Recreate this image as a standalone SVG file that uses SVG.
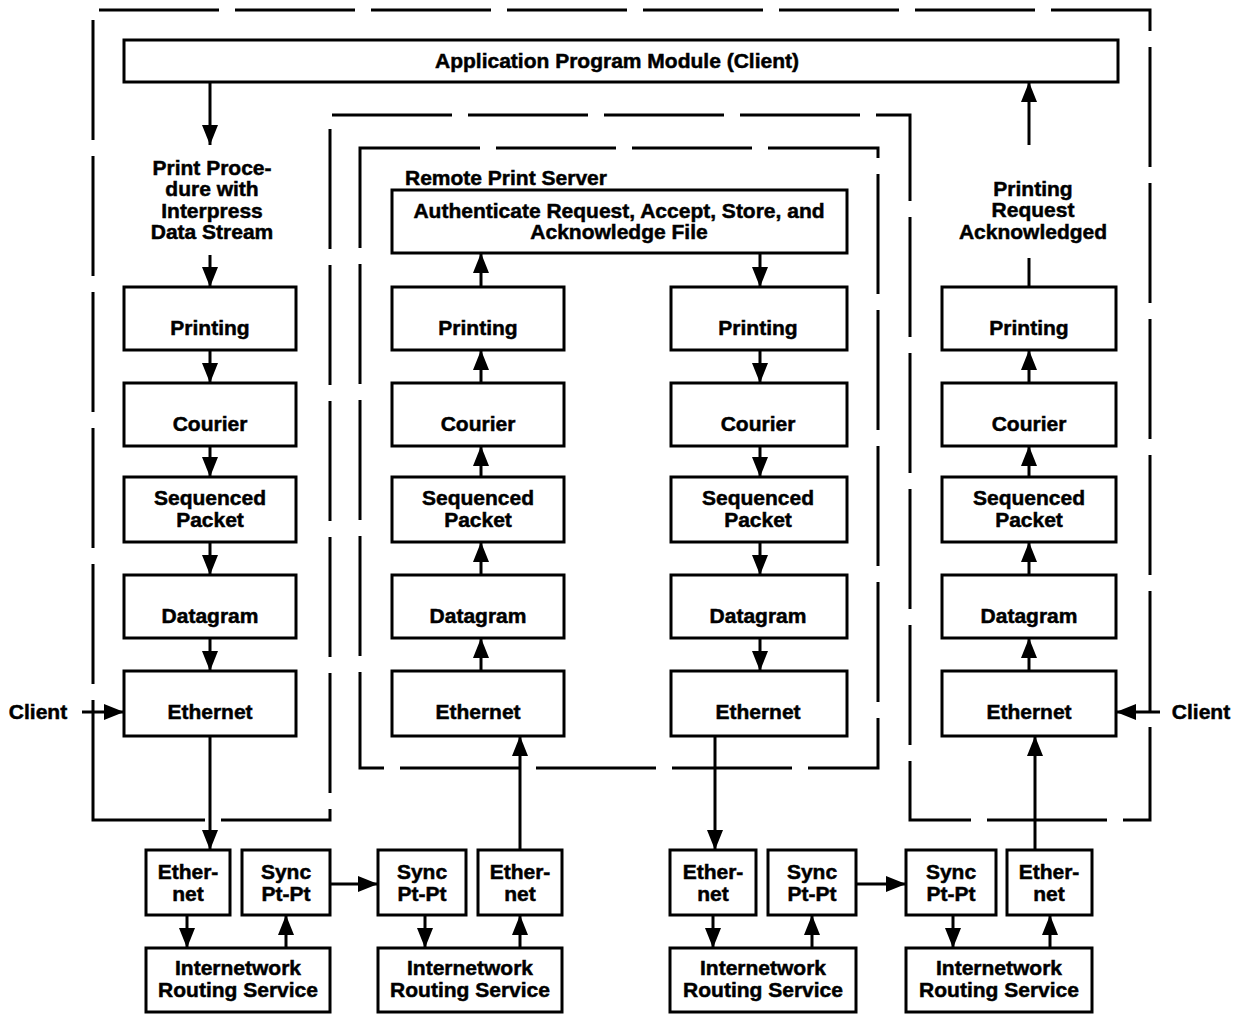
<svg xmlns="http://www.w3.org/2000/svg" width="1245" height="1015" viewBox="0 0 1245 1015">
<style>
  .box{fill:#fff;stroke:#000;stroke-width:3}
  .dash{fill:none;stroke:#000;stroke-width:3;stroke-dasharray:120 16}
  .t{font-family:"Liberation Sans",Arial,sans-serif;font-weight:bold;font-size:21px;fill:#000;stroke:#000;stroke-width:0.5;text-anchor:middle}
  .tl{text-anchor:start}
  .c{stroke:#000;stroke-width:3;fill:none}
  .a{marker-end:url(#arr)}
</style>
<defs>
  <marker id="arr" viewBox="0 0 20 16" refX="20" refY="8" markerWidth="20" markerHeight="16" markerUnits="userSpaceOnUse" orient="auto">
    <path d="M0,0 L20,8 L0,16 z" fill="#000"/>
  </marker>
</defs>
<rect width="1245" height="1015" fill="#fff"/>

<g id="frames">
  <path class="dash" d="M93,820 L93,10 L1150,10 L1150,820 L910,820 L910,115 L330,115 L330,820 Z"/>
  <rect id="remote-print-server-frame" class="dash" x="360" y="148" width="518" height="620"/>
</g>

<g id="connectors">
  <line class="c a" x1="210" y1="82" x2="210" y2="145"/>
  <line class="c a" x1="210" y1="255" x2="210" y2="287"/>
  <line class="c a" x1="210" y1="350" x2="210" y2="383"/>
  <line class="c a" x1="210" y1="446" x2="210" y2="477"/>
  <line class="c a" x1="210" y1="542" x2="210" y2="575"/>
  <line class="c a" x1="210" y1="638" x2="210" y2="671"/>
  <line class="c a" x1="210" y1="736" x2="210" y2="850"/>
  <line class="c a" x1="82" y1="712" x2="124" y2="712"/>
  <line class="c a" x1="187" y1="915" x2="187" y2="948"/>
  <line class="c a" x1="286" y1="948" x2="286" y2="915"/>
  <line class="c a" x1="330" y1="884" x2="378" y2="884"/>
  <line class="c a" x1="425" y1="915" x2="425" y2="948"/>
  <line class="c a" x1="520" y1="948" x2="520" y2="915"/>
  <line class="c a" x1="520" y1="850" x2="520" y2="736"/>
  <line class="c a" x1="481" y1="671" x2="481" y2="638"/>
  <line class="c a" x1="481" y1="575" x2="481" y2="542"/>
  <line class="c a" x1="481" y1="477" x2="481" y2="446"/>
  <line class="c a" x1="481" y1="383" x2="481" y2="350"/>
  <line class="c a" x1="481" y1="287" x2="481" y2="253"/>
  <line class="c a" x1="760" y1="253" x2="760" y2="287"/>
  <line class="c a" x1="760" y1="350" x2="760" y2="383"/>
  <line class="c a" x1="760" y1="446" x2="760" y2="477"/>
  <line class="c a" x1="760" y1="542" x2="760" y2="575"/>
  <line class="c a" x1="760" y1="638" x2="760" y2="671"/>
  <line class="c a" x1="715" y1="736" x2="715" y2="850"/>
  <line class="c a" x1="713" y1="915" x2="713" y2="948"/>
  <line class="c a" x1="812" y1="948" x2="812" y2="915"/>
  <line class="c a" x1="856" y1="884" x2="906" y2="884"/>
  <line class="c a" x1="953" y1="915" x2="953" y2="948"/>
  <line class="c a" x1="1050" y1="948" x2="1050" y2="915"/>
  <line class="c a" x1="1035" y1="850" x2="1035" y2="736"/>
  <line class="c a" x1="1029" y1="671" x2="1029" y2="638"/>
  <line class="c a" x1="1029" y1="575" x2="1029" y2="542"/>
  <line class="c a" x1="1029" y1="477" x2="1029" y2="446"/>
  <line class="c a" x1="1029" y1="383" x2="1029" y2="350"/>
  <line class="c" x1="1029" y1="287" x2="1029" y2="258"/>
  <line class="c a" x1="1029" y1="145" x2="1029" y2="82"/>
  <line class="c a" x1="1160" y1="712" x2="1116" y2="712"/>
</g>

<g id="app-module"><rect class="box" x="124" y="40" width="994" height="42"/><text class="t" x="617" y="68">Application Program Module (Client)</text></g>

<g id="print-procedure-label"><text class="t" x="212" y="175">Print Proce-</text><text class="t" x="212" y="196">dure with</text><text class="t" x="212" y="218">Interpress</text><text class="t" x="212" y="239">Data Stream</text></g>
<g id="ack-label"><text class="t" x="1033" y="196">Printing</text><text class="t" x="1033" y="217">Request</text><text class="t" x="1033" y="239">Acknowledged</text></g>

<g id="client-left-label"><text class="t" x="38" y="719">Client</text></g>
<g id="client-right-label"><text class="t" x="1201" y="719">Client</text></g>

<g id="l-printing"><rect class="box" x="124" y="287" width="172" height="63"/><text class="t" x="210" y="335">Printing</text></g>
<g id="l-courier"><rect class="box" x="124" y="383" width="172" height="63"/><text class="t" x="210" y="431">Courier</text></g>
<g id="l-seq"><rect class="box" x="124" y="477" width="172" height="65"/><text class="t" x="210" y="505">Sequenced</text><text class="t" x="210" y="527">Packet</text></g>
<g id="l-datagram"><rect class="box" x="124" y="575" width="172" height="63"/><text class="t" x="210" y="623">Datagram</text></g>
<g id="l-ethernet"><rect class="box" x="124" y="671" width="172" height="65"/><text class="t" x="210" y="719">Ethernet</text></g>

<g id="rps-label"><text class="t tl" x="405" y="185">Remote Print Server</text></g>
<g id="rps-auth"><rect class="box" x="392" y="190" width="455" height="63"/><text class="t" x="619" y="218">Authenticate Request, Accept, Store, and</text><text class="t" x="619" y="239">Acknowledge File</text></g>
<g id="rl-printing"><rect class="box" x="392" y="287" width="172" height="63"/><text class="t" x="478" y="335">Printing</text></g>
<g id="rl-courier"><rect class="box" x="392" y="383" width="172" height="63"/><text class="t" x="478" y="431">Courier</text></g>
<g id="rl-seq"><rect class="box" x="392" y="477" width="172" height="65"/><text class="t" x="478" y="505">Sequenced</text><text class="t" x="478" y="527">Packet</text></g>
<g id="rl-datagram"><rect class="box" x="392" y="575" width="172" height="63"/><text class="t" x="478" y="623">Datagram</text></g>
<g id="rl-ethernet"><rect class="box" x="392" y="671" width="172" height="65"/><text class="t" x="478" y="719">Ethernet</text></g>
<g id="rr-printing"><rect class="box" x="671" y="287" width="176" height="63"/><text class="t" x="758" y="335">Printing</text></g>
<g id="rr-courier"><rect class="box" x="671" y="383" width="176" height="63"/><text class="t" x="758" y="431">Courier</text></g>
<g id="rr-seq"><rect class="box" x="671" y="477" width="176" height="65"/><text class="t" x="758" y="505">Sequenced</text><text class="t" x="758" y="527">Packet</text></g>
<g id="rr-datagram"><rect class="box" x="671" y="575" width="176" height="63"/><text class="t" x="758" y="623">Datagram</text></g>
<g id="rr-ethernet"><rect class="box" x="671" y="671" width="176" height="65"/><text class="t" x="758" y="719">Ethernet</text></g>

<g id="r-printing"><rect class="box" x="942" y="287" width="174" height="63"/><text class="t" x="1029" y="335">Printing</text></g>
<g id="r-courier"><rect class="box" x="942" y="383" width="174" height="63"/><text class="t" x="1029" y="431">Courier</text></g>
<g id="r-seq"><rect class="box" x="942" y="477" width="174" height="65"/><text class="t" x="1029" y="505">Sequenced</text><text class="t" x="1029" y="527">Packet</text></g>
<g id="r-datagram"><rect class="box" x="942" y="575" width="174" height="63"/><text class="t" x="1029" y="623">Datagram</text></g>
<g id="r-ethernet"><rect class="box" x="942" y="671" width="174" height="65"/><text class="t" x="1029" y="719">Ethernet</text></g>

<g id="g1-ether"><rect class="box" x="146" y="850" width="84" height="65"/><text class="t" x="188" y="879">Ether-</text><text class="t" x="188" y="901">net</text></g>
<g id="g1-sync"><rect class="box" x="242" y="850" width="88" height="65"/><text class="t" x="286" y="879">Sync</text><text class="t" x="286" y="901">Pt-Pt</text></g>
<g id="g1-irs"><rect class="box" x="146" y="948" width="184" height="64"/><text class="t" x="238" y="975">Internetwork</text><text class="t" x="238" y="997">Routing Service</text></g>
<g id="g2-sync"><rect class="box" x="378" y="850" width="88" height="65"/><text class="t" x="422" y="879">Sync</text><text class="t" x="422" y="901">Pt-Pt</text></g>
<g id="g2-ether"><rect class="box" x="478" y="850" width="84" height="65"/><text class="t" x="520" y="879">Ether-</text><text class="t" x="520" y="901">net</text></g>
<g id="g2-irs"><rect class="box" x="378" y="948" width="184" height="64"/><text class="t" x="470" y="975">Internetwork</text><text class="t" x="470" y="997">Routing Service</text></g>
<g id="g3-ether"><rect class="box" x="670" y="850" width="86" height="65"/><text class="t" x="713" y="879">Ether-</text><text class="t" x="713" y="901">net</text></g>
<g id="g3-sync"><rect class="box" x="768" y="850" width="88" height="65"/><text class="t" x="812" y="879">Sync</text><text class="t" x="812" y="901">Pt-Pt</text></g>
<g id="g3-irs"><rect class="box" x="670" y="948" width="186" height="64"/><text class="t" x="763" y="975">Internetwork</text><text class="t" x="763" y="997">Routing Service</text></g>
<g id="g4-sync"><rect class="box" x="906" y="850" width="90" height="65"/><text class="t" x="951" y="879">Sync</text><text class="t" x="951" y="901">Pt-Pt</text></g>
<g id="g4-ether"><rect class="box" x="1007" y="850" width="85" height="65"/><text class="t" x="1049" y="879">Ether-</text><text class="t" x="1049" y="901">net</text></g>
<g id="g4-irs"><rect class="box" x="906" y="948" width="186" height="64"/><text class="t" x="999" y="975">Internetwork</text><text class="t" x="999" y="997">Routing Service</text></g>
</svg>
